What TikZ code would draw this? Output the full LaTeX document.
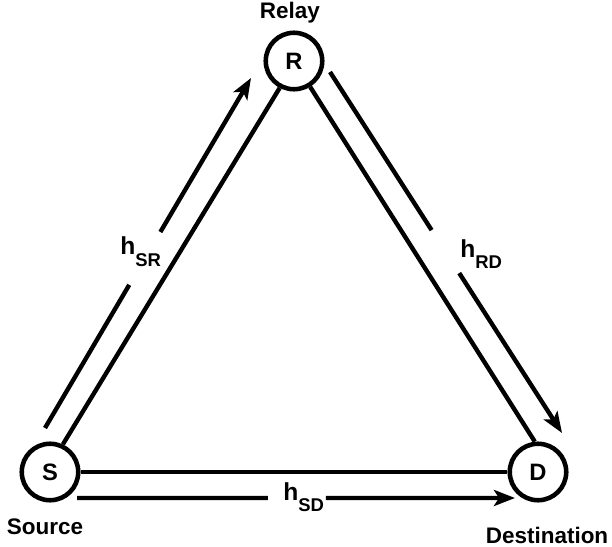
\documentclass[tikz,border=0pt]{standalone}
\usepackage{fontspec}
\setmainfont{Liberation Sans}
\usetikzlibrary{arrows.meta,calc}
\newcommand\hsub[1]{\raisebox{-6.5pt}{\fontsize{10.5}{12}\selectfont\bfseries #1}}
\begin{document}
\begin{tikzpicture}[x=0.02cm,y=-0.02cm,
  nd/.style={circle,draw,line width=2.6pt,minimum size=1.13cm,inner sep=0pt,font=\fontsize{13.5}{15}\selectfont\bfseries},
  ttl/.style={font=\fontsize{12.8}{15}\selectfont\bfseries,inner sep=0pt},
  ln/.style={line width=2.5pt},
  arr/.style={line width=2.5pt,-{Stealth[length=4.2mm,width=3.2mm,inset=1mm]}},
  lab/.style={inner sep=0pt,anchor=base west,font=\fontsize{14}{15}\selectfont\bfseries}]
\useasboundingbox (0,0) rectangle (612,547);
% nodes
\node[nd] (S) at (50,472) {S};
\node[nd] (R) at (294,61) {R};
\node[nd] (D) at (538,472) {D};
\node[ttl] (tR) at (290,13) {Relay};
\node[ttl] (tS) at (45,527) {Source};
\node[ttl] (tD) at (547,535) {Destination};
% inner links
\draw[ln] (S.65) -- (R.242);
\draw[ln] (R.302) -- (D.96);
\draw[ln] (S.east) -- (D.west);
% outer arrows
\coordinate (sr1) at (45,428);
\coordinate (sr2) at (251,78);
\coordinate (rd1) at (330,72);
\coordinate (rd2) at (562,433);
\coordinate (sd1) at (77,498);
\coordinate (sd2) at (515,498);
\draw[ln] (sr1) -- ($(sr1)!0.409!(sr2)$);
\draw[arr] ($(sr1)!0.56!(sr2)$) -- (sr2);
\draw[ln] (rd1) -- ($(rd1)!0.438!(rd2)$);
\draw[arr] ($(rd1)!0.557!(rd2)$) -- (rd2);
\draw[ln] (sd1) -- ($(sd1)!0.436!(sd2)$);
\draw[arr] ($(sd1)!0.568!(sd2)$) -- (sd2);
% labels
\node[lab] (lSR) at (120,255) {h\hsub{SR}};
\node[lab] (lRD) at (460,257) {h\hsub{RD}};
\node[lab] (lSD) at (283,500) {h\hsub{SD}};
\end{tikzpicture}
\end{document}
